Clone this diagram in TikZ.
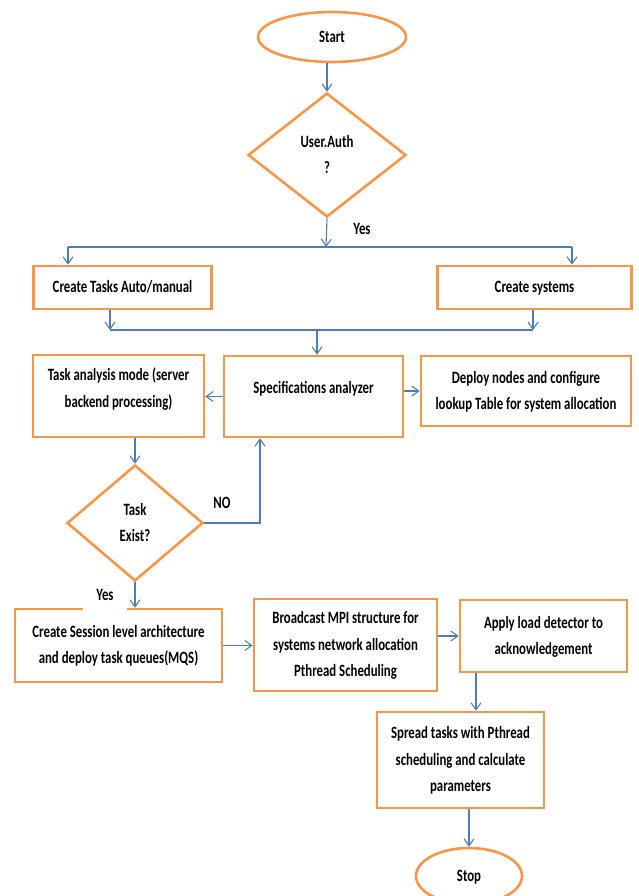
\documentclass[tikz,border=0pt]{standalone}
\usepackage{fontspec}
\setmainfont{Carlito}
\usepackage{graphicx}
\usetikzlibrary{shapes.geometric,arrows.meta}
\definecolor{boxorange}{HTML}{F79646}
\definecolor{linkblue}{HTML}{4A7EBB}
\newcommand{\fltext}[1]{\scalebox{1}[1.35]{\begin{tabular}{@{}c@{}}#1\end{tabular}}}
\begin{document}
\begin{tikzpicture}[x=1pt, y=-1pt, font=\fontsize{12.8}{19.5}\selectfont\bfseries,
	box/.style={draw=boxorange, line width=2.6pt, fill=white, rectangle, inner sep=0pt},
	term/.style={draw=boxorange, line width=2.6pt, fill=white, ellipse, inner sep=0pt},
	decide/.style={draw=boxorange, line width=2.6pt, fill=white, diamond, inner sep=0pt},
	link/.style={draw=linkblue, line width=1.1pt},
	arr/.style={link, -{Straight Barb[length=7pt,width=10pt]}}]
	\useasboundingbox (0,0) rectangle (639,896);
	\node[term, minimum width=148pt, minimum height=50pt] (start) at (332,37) {\fltext{Start}};
	\node[decide, minimum width=158pt, minimum height=124pt] (auth) at (327,155) {\fltext{User.Auth\\?}};
	\node[box, minimum width=178pt, minimum height=43pt] (tasks) at (122.5,287.5) {\fltext{Create Tasks Auto/manual}};
	\node[box, minimum width=194pt, minimum height=43pt] (systems) at (534.5,287.5) {\fltext{Create systems}};
	\node[box, minimum width=171pt, minimum height=82pt, text depth=37pt] (analysis) at (118.5,396) {\fltext{Task analysis mode (server\\backend processing)}};
	\node[box, minimum width=179pt, minimum height=81pt, text depth=26pt] (spec) at (313.5,396.5) {\fltext{Specifications analyzer}};
	\node[box, minimum width=210pt, minimum height=70pt] (deploy) at (526,391) {\fltext{Deploy nodes and configure\\lookup Table for system allocation}};
	\node[decide, minimum width=136pt, minimum height=116pt] (exist) at (135,523) {\fltext{Task\\Exist?}};
	\node[box, minimum width=207pt, minimum height=73pt] (session) at (118.5,645.5) {\fltext{Create Session level architecture\\and deploy task queues(MQS)}};
	\node[box, minimum width=183pt, minimum height=92pt] (mpi) at (345.5,645) {\fltext{Broadcast MPI structure for\\systems network allocation\\Pthread Scheduling}};
	\node[box, minimum width=167pt, minimum height=72pt] (detector) at (543.5,636) {\fltext{Apply load detector to\\acknowledgement}};
	\node[box, minimum width=167pt, minimum height=96pt] (spread) at (460.5,760) {\fltext{Spread tasks with Pthread\\scheduling and calculate\\parameters}};
	\node[term, minimum width=106pt, minimum height=56pt] (stop) at (469,876) {\fltext{Stop}};
	\node (yesauth) at (362,229) {\fltext{Yes}};
	\node (noexist) at (222,503) {\fltext{NO}};
	\node[fill=white, inner sep=0pt, minimum width=44pt, minimum height=32pt] (yesexist) at (105,595) {\fltext{Yes}};
	\coordinate (split) at (326,247);
	\coordinate (leftdrop) at (68,247);
	\coordinate (rightdrop) at (572,247);
	\coordinate (joinl) at (110,330);
	\coordinate (joinr) at (533,330);
	\coordinate (joinc) at (317,330);
	\coordinate (noback) at (260,523);
	\coordinate (drop) at (476,673);
	\draw[arr] (start.south -| auth.north) -- (auth.north);
	\draw[arr] (auth.south) -- (split);
	\draw[link] (leftdrop) -- (rightdrop);
	\draw[arr] (leftdrop) -- (leftdrop |- tasks.north);
	\draw[arr] (rightdrop) -- (rightdrop |- systems.north);
	\draw[arr] (joinl |- tasks.south) -- (joinl);
	\draw[arr] (joinr |- systems.south) -- (joinr);
	\draw[link] (joinl) -- (joinr);
	\draw[arr] (joinc) -- (joinc |- spec.north);
	\draw[arr] (spec.west) -- (spec.west -| analysis.east);
	\draw[arr] (spec.east |- deploy.west) -- (deploy.west);
	\draw[arr] (analysis.south -| exist.north) -- (exist.north);
	\draw[arr] (exist.east) -- (noback) -- (noback |- spec.south);
	\draw[arr] (exist.south) -- (exist.south |- session.north);
	\draw[arr] (session.east) -- (session.east -| mpi.west);
	\draw[arr] (mpi.east |- detector.west) -- (detector.west);
	\draw[arr] (drop |- detector.south) -- (drop |- spread.north);
	\draw[arr] (stop.north |- spread.south) -- (stop.north);
\end{tikzpicture}
\end{document}
